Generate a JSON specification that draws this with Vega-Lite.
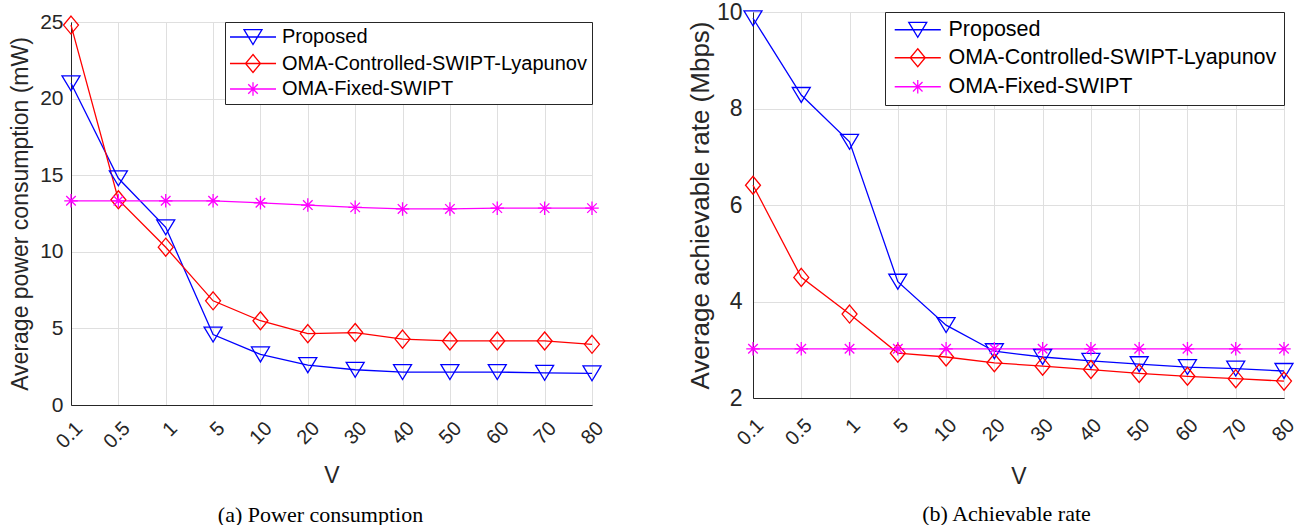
{
  "$schema": "https://vega.github.io/schema/vega-lite/v6.json",
  "background": "white",
  "padding": {"left": 9, "top": 0, "right": 5, "bottom": 0},
  "config": {
    "font": "Liberation Sans",
    "view": {"stroke": "#262626", "strokeWidth": 1},
    "axis": {"labelFont": "Liberation Sans", "titleFont": "Liberation Sans", "labelColor": "#262626", "titleColor": "#262626", "titleFontWeight": "normal", "gridColor": "#dfdfdf", "gridWidth": 1, "gridOpacity": 1, "domainColor": "#262626", "ticks": false},
    "legend": {"orient": "top-right", "offset": 0, "strokeColor": "#262626", "fillColor": "white", "labelFont": "Liberation Sans", "labelColor": "black", "labelLimit": 500, "symbolSize": 324, "symbolStrokeWidth": 1.3}
  },
  "datasets": {
    "power": [
      {"V": "0.1", "series": "Proposed", "value": 21.0},
      {"V": "0.5", "series": "Proposed", "value": 14.8},
      {"V": "1", "series": "Proposed", "value": 11.6},
      {"V": "5", "series": "Proposed", "value": 4.6},
      {"V": "10", "series": "Proposed", "value": 3.3},
      {"V": "20", "series": "Proposed", "value": 2.6},
      {"V": "30", "series": "Proposed", "value": 2.3},
      {"V": "40", "series": "Proposed", "value": 2.15},
      {"V": "50", "series": "Proposed", "value": 2.15},
      {"V": "60", "series": "Proposed", "value": 2.15},
      {"V": "70", "series": "Proposed", "value": 2.1},
      {"V": "80", "series": "Proposed", "value": 2.07},
      {"V": "0.1", "series": "OMA-Controlled-SWIPT-Lyapunov", "value": 24.8},
      {"V": "0.5", "series": "OMA-Controlled-SWIPT-Lyapunov", "value": 13.4},
      {"V": "1", "series": "OMA-Controlled-SWIPT-Lyapunov", "value": 10.3},
      {"V": "5", "series": "OMA-Controlled-SWIPT-Lyapunov", "value": 6.8},
      {"V": "10", "series": "OMA-Controlled-SWIPT-Lyapunov", "value": 5.5},
      {"V": "20", "series": "OMA-Controlled-SWIPT-Lyapunov", "value": 4.66},
      {"V": "30", "series": "OMA-Controlled-SWIPT-Lyapunov", "value": 4.73},
      {"V": "40", "series": "OMA-Controlled-SWIPT-Lyapunov", "value": 4.3},
      {"V": "50", "series": "OMA-Controlled-SWIPT-Lyapunov", "value": 4.18},
      {"V": "60", "series": "OMA-Controlled-SWIPT-Lyapunov", "value": 4.18},
      {"V": "70", "series": "OMA-Controlled-SWIPT-Lyapunov", "value": 4.18},
      {"V": "80", "series": "OMA-Controlled-SWIPT-Lyapunov", "value": 3.96},
      {"V": "0.1", "series": "OMA-Fixed-SWIPT", "value": 13.33},
      {"V": "0.5", "series": "OMA-Fixed-SWIPT", "value": 13.33},
      {"V": "1", "series": "OMA-Fixed-SWIPT", "value": 13.33},
      {"V": "5", "series": "OMA-Fixed-SWIPT", "value": 13.33},
      {"V": "10", "series": "OMA-Fixed-SWIPT", "value": 13.2},
      {"V": "20", "series": "OMA-Fixed-SWIPT", "value": 13.05},
      {"V": "30", "series": "OMA-Fixed-SWIPT", "value": 12.9},
      {"V": "40", "series": "OMA-Fixed-SWIPT", "value": 12.8},
      {"V": "50", "series": "OMA-Fixed-SWIPT", "value": 12.8},
      {"V": "60", "series": "OMA-Fixed-SWIPT", "value": 12.85},
      {"V": "70", "series": "OMA-Fixed-SWIPT", "value": 12.85},
      {"V": "80", "series": "OMA-Fixed-SWIPT", "value": 12.85}
    ],
    "rate": [
      {"V": "0.1", "series": "Proposed", "value": 9.87},
      {"V": "0.5", "series": "Proposed", "value": 8.28},
      {"V": "1", "series": "Proposed", "value": 7.31},
      {"V": "5", "series": "Proposed", "value": 4.41},
      {"V": "10", "series": "Proposed", "value": 3.51},
      {"V": "20", "series": "Proposed", "value": 2.97},
      {"V": "30", "series": "Proposed", "value": 2.85},
      {"V": "40", "series": "Proposed", "value": 2.77},
      {"V": "50", "series": "Proposed", "value": 2.7},
      {"V": "60", "series": "Proposed", "value": 2.64},
      {"V": "70", "series": "Proposed", "value": 2.61},
      {"V": "80", "series": "Proposed", "value": 2.56},
      {"V": "0.1", "series": "OMA-Controlled-SWIPT-Lyapunov", "value": 6.41},
      {"V": "0.5", "series": "OMA-Controlled-SWIPT-Lyapunov", "value": 4.5},
      {"V": "1", "series": "OMA-Controlled-SWIPT-Lyapunov", "value": 3.74},
      {"V": "5", "series": "OMA-Controlled-SWIPT-Lyapunov", "value": 2.93},
      {"V": "10", "series": "OMA-Controlled-SWIPT-Lyapunov", "value": 2.85},
      {"V": "20", "series": "OMA-Controlled-SWIPT-Lyapunov", "value": 2.73},
      {"V": "30", "series": "OMA-Controlled-SWIPT-Lyapunov", "value": 2.66},
      {"V": "40", "series": "OMA-Controlled-SWIPT-Lyapunov", "value": 2.59},
      {"V": "50", "series": "OMA-Controlled-SWIPT-Lyapunov", "value": 2.51},
      {"V": "60", "series": "OMA-Controlled-SWIPT-Lyapunov", "value": 2.45},
      {"V": "70", "series": "OMA-Controlled-SWIPT-Lyapunov", "value": 2.4},
      {"V": "80", "series": "OMA-Controlled-SWIPT-Lyapunov", "value": 2.35},
      {"V": "0.1", "series": "OMA-Fixed-SWIPT", "value": 3.02},
      {"V": "0.5", "series": "OMA-Fixed-SWIPT", "value": 3.02},
      {"V": "1", "series": "OMA-Fixed-SWIPT", "value": 3.02},
      {"V": "5", "series": "OMA-Fixed-SWIPT", "value": 3.02},
      {"V": "10", "series": "OMA-Fixed-SWIPT", "value": 3.02},
      {"V": "20", "series": "OMA-Fixed-SWIPT", "value": 3.02},
      {"V": "30", "series": "OMA-Fixed-SWIPT", "value": 3.02},
      {"V": "40", "series": "OMA-Fixed-SWIPT", "value": 3.02},
      {"V": "50", "series": "OMA-Fixed-SWIPT", "value": 3.02},
      {"V": "60", "series": "OMA-Fixed-SWIPT", "value": 3.02},
      {"V": "70", "series": "OMA-Fixed-SWIPT", "value": 3.02},
      {"V": "80", "series": "OMA-Fixed-SWIPT", "value": 3.02}
    ]
  },
  "spacing": 78,
  "resolve": {"scale": {"color": "independent", "shape": "independent"}, "legend": {"color": "independent", "shape": "independent"}},
  "hconcat": [
    {"spacing": -8,
     "vconcat": [
    {
      "width": 521,
      "height": 1,
      "data": {"values": [{}]},
      "view": {"stroke": null},
      "mark": {"type": "text", "text": ""}
    },
    {
      "width": 521,
      "height": 383,
      "data": {"name": "power"},
      "title": {"text": "(a) Power consumption", "orient": "bottom", "font": "Liberation Serif", "fontSize": 22, "fontWeight": "normal", "color": "black", "offset": 17, "dx": -11, "anchor": "middle"},
      "encoding": {
        "x": {"field": "V", "type": "ordinal", "sort": ["0.1", "0.5", "1", "5", "10", "20", "30", "40", "50", "60", "70", "80"], "scale": {"type": "point", "padding": 0},
          "axis": {"title": "V", "grid": true, "labelAngle": -45, "labelAlign": "right", "labelBaseline": "middle", "labelFontSize": 20, "labelPadding": 20, "labelOffset": 8, "titleFontSize": 23, "titlePadding": 13}},
        "y": {"field": "value", "type": "quantitative", "scale": {"domain": [0, 25]},
          "axis": {"values": [0, 5, 10, 15, 20, 25], "title": "Average power consumption (mW)", "labelFontSize": 21, "labelPadding": 8, "titleFontSize": 23, "titlePadding": 7}},
        "color": {"field": "series", "type": "nominal", "scale": {"domain": ["Proposed", "OMA-Controlled-SWIPT-Lyapunov", "OMA-Fixed-SWIPT"], "range": ["#0000ff", "#ff0000", "#ff00ff"]},
          "legend": {"title": null, "padding": 5, "rowPadding": 3.5, "labelFontSize": 20, "labelOffset": 19, "symbolOffset": 13}}
      },
      "layer": [
        {"mark": {"type": "line", "strokeWidth": 1.3}},
        {"transform": [{"filter": "datum.series === 'Proposed'"}],
         "mark": {"type": "point", "filled": false, "size": 324, "strokeWidth": 1.3, "opacity": 1, "shape": "M-1,-0.83L1,-0.83L0,0.83Z"}},
        {"transform": [{"filter": "datum.series === 'OMA-Controlled-SWIPT-Lyapunov'"}],
         "mark": {"type": "point", "filled": false, "size": 324, "strokeWidth": 1.3, "opacity": 1, "shape": "M0,-1L0.83,0L0,1L-0.83,0Z"}},
        {"transform": [{"filter": "datum.series === 'OMA-Fixed-SWIPT'"}],
         "mark": {"type": "point", "filled": false, "size": 324, "strokeWidth": 1.3, "opacity": 1, "shape": "M-0.75,0H0.75M0,-0.75V0.75M-0.53,-0.53L0.53,0.53M-0.53,0.53L0.53,-0.53"}},
        {"transform": [{"filter": "false"}],
         "mark": {"type": "point", "filled": false, "size": 324, "strokeWidth": 1.3, "opacity": 1},
         "encoding": {
           "shape": {"field": "series", "type": "nominal",
             "scale": {"domain": ["Proposed", "OMA-Controlled-SWIPT-Lyapunov", "OMA-Fixed-SWIPT"], "range": ["M-2.56,0H2.56M-1,-0.83L1,-0.83L0,0.83Z", "M-2.56,0H2.56M0,-1L0.83,0L0,1L-0.83,0Z", "M-2.56,0H2.56M0,-0.75V0.75M-0.53,-0.53L0.53,0.53M-0.53,0.53L0.53,-0.53"]},
             "legend": {"title": null, "padding": 5, "rowPadding": 3.5, "labelFontSize": 20, "labelOffset": 19, "symbolOffset": 13}}
         }}
      ]
    }
    ],
    "resolve": {"scale": {"color": "independent", "shape": "independent"}, "legend": {"color": "independent", "shape": "independent"}}},
    {
      "width": 531,
      "height": 386,
      "data": {"name": "rate"},
      "title": {"text": "(b) Achievable rate", "orient": "bottom", "font": "Liberation Serif", "fontSize": 22, "fontWeight": "normal", "color": "black", "offset": 15, "dx": -12, "anchor": "middle"},
      "encoding": {
        "x": {"field": "V", "type": "ordinal", "sort": ["0.1", "0.5", "1", "5", "10", "20", "30", "40", "50", "60", "70", "80"], "scale": {"type": "point", "padding": 0},
          "axis": {"title": "V", "grid": true, "labelAngle": -45, "labelAlign": "right", "labelBaseline": "middle", "labelFontSize": 20, "labelPadding": 24, "labelOffset": 7, "titleFontSize": 23, "titlePadding": 17}},
        "y": {"field": "value", "type": "quantitative", "scale": {"domain": [2, 10]},
          "axis": {"values": [2, 4, 6, 8, 10], "title": "Average achievable rate (Mbps)", "labelFontSize": 23, "labelPadding": 11, "titleFontSize": 26, "titlePadding": 3}},
        "color": {"field": "series", "type": "nominal", "scale": {"domain": ["Proposed", "OMA-Controlled-SWIPT-Lyapunov", "OMA-Fixed-SWIPT"], "range": ["#0000ff", "#ff0000", "#ff00ff"]},
          "legend": {"title": null, "padding": 7, "rowPadding": 5, "labelFontSize": 21.5, "labelOffset": 20, "symbolOffset": 15}}
      },
      "layer": [
        {"mark": {"type": "line", "strokeWidth": 1.3}},
        {"transform": [{"filter": "datum.series === 'Proposed'"}],
         "mark": {"type": "point", "filled": false, "size": 324, "strokeWidth": 1.3, "opacity": 1, "shape": "M-1,-0.83L1,-0.83L0,0.83Z"}},
        {"transform": [{"filter": "datum.series === 'OMA-Controlled-SWIPT-Lyapunov'"}],
         "mark": {"type": "point", "filled": false, "size": 324, "strokeWidth": 1.3, "opacity": 1, "shape": "M0,-1L0.83,0L0,1L-0.83,0Z"}},
        {"transform": [{"filter": "datum.series === 'OMA-Fixed-SWIPT'"}],
         "mark": {"type": "point", "filled": false, "size": 324, "strokeWidth": 1.3, "opacity": 1, "shape": "M-0.75,0H0.75M0,-0.75V0.75M-0.53,-0.53L0.53,0.53M-0.53,0.53L0.53,-0.53"}},
        {"transform": [{"filter": "false"}],
         "mark": {"type": "point", "filled": false, "size": 324, "strokeWidth": 1.3, "opacity": 1},
         "encoding": {
           "shape": {"field": "series", "type": "nominal",
             "scale": {"domain": ["Proposed", "OMA-Controlled-SWIPT-Lyapunov", "OMA-Fixed-SWIPT"], "range": ["M-2.56,0H2.56M-1,-0.83L1,-0.83L0,0.83Z", "M-2.56,0H2.56M0,-1L0.83,0L0,1L-0.83,0Z", "M-2.56,0H2.56M0,-0.75V0.75M-0.53,-0.53L0.53,0.53M-0.53,0.53L0.53,-0.53"]},
             "legend": {"title": null, "padding": 7, "rowPadding": 5, "labelFontSize": 21.5, "labelOffset": 20, "symbolOffset": 15}}
         }}
      ]
    }
  ]
}
